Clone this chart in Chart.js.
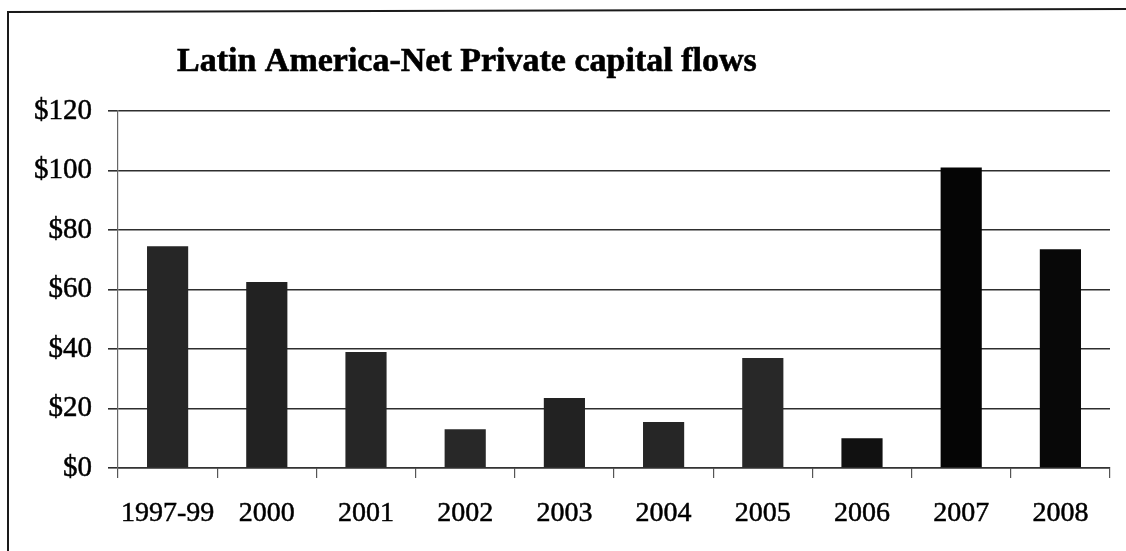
<!DOCTYPE html>
<html>
<head>
<meta charset="utf-8">
<style>
  html, body { margin: 0; padding: 0; background: #fff; overflow: hidden; }
  #wrap { position: relative; width: 1126px; height: 551px; overflow: hidden; }
  #c { display: block; }
</style>
<script src="https://cdn.jsdelivr.net/npm/chart.js@4/dist/chart.umd.min.js"></script>
</head>
<body>
<div id="wrap"><canvas id="c" width="1126" height="551"></canvas></div>
<script>
// Net private capital flows into Latin America, US$ billions
const categories = ['1997-99', '2000', '2001', '2002', '2003', '2004', '2005', '2006', '2007', '2008'];
const flows = [74.5, 62.5, 39, 13, 23.5, 15.5, 37, 10, 101, 73.5];
const yTicks = [0, 20, 40, 60, 80, 100, 120];
const chartTitle = 'Latin America-Net Private capital flows';

const barColors = ['#262626', '#222222', '#262626', '#282828', '#222222', '#262626', '#282828', '#111111', '#050505', '#080808'];
const serif = '"Liberation Serif", "Times New Roman", serif';

// Frame (top and left edges) and title drawn onto the canvas
const framePlugin = {
  id: 'frame',
  beforeDraw(chart) {
    const ctx = chart.ctx;
    ctx.save();
    ctx.fillStyle = '#ffffff';
    ctx.fillRect(0, 0, chart.width, chart.height);
    ctx.strokeStyle = '#1a1a1a';
    ctx.lineWidth = 2;
    ctx.beginPath();
    ctx.moveTo(8, chart.height + 5);
    ctx.lineTo(8, 12);
    ctx.lineTo(chart.width + 5, 9);
    ctx.stroke();
    ctx.restore();
  },
  afterDraw(chart) {
    const ctx = chart.ctx;
    ctx.save();
    ctx.fillStyle = '#000';
    ctx.strokeStyle = '#000';
    ctx.lineWidth = 0.6;
    ctx.font = 'bold 34px ' + serif;
    ctx.textAlign = 'left';
    ctx.textBaseline = 'alphabetic';
    ctx.fillText(chartTitle, 177, 71);
    ctx.strokeText(chartTitle, 177, 71);
    ctx.restore();
  }
};

new Chart(document.getElementById('c'), {
  type: 'bar',
  data: {
    labels: categories,
    datasets: [{
      data: flows,
      backgroundColor: barColors,
      borderWidth: 0,
      categoryPercentage: 1,
      barPercentage: 0.415
    }]
  },
  options: {
    responsive: false,
    animation: false,
    devicePixelRatio: 1,
    layout: { padding: { left: 0, top: 111, right: 16, bottom: 0 } },
    plugins: { legend: { display: false }, tooltip: { enabled: false }, title: { display: false } },
    scales: {
      x: {
        offset: true,
        afterFit(scale) { scale.height = 83; },
        grid: {
          offset: true,
          drawOnChartArea: false,
          drawTicks: true,
          tickLength: 10,
          color: '#555',
          lineWidth: 1.2
        },
        border: { display: true, color: '#333', width: 1.5 },
        ticks: {
          color: '#000',
          font: { family: serif, size: 28 },
          textStrokeColor: '#000',
          textStrokeWidth: 0.5,
          padding: 19,
          maxRotation: 0,
          autoSkip: false
        }
      },
      y: {
        min: 0,
        max: 120,
        afterFit(scale) { scale.width = 118; },
        afterBuildTicks(scale) { scale.ticks = yTicks.map(v => ({ value: v })); },
        grid: {
          drawTicks: true,
          tickLength: 10,
          color: '#2e2e2e',
          lineWidth: 1.6
        },
        border: { display: true, color: '#666', width: 1.2 },
        ticks: {
          color: '#000',
          font: { family: serif, size: 29 },
          textStrokeColor: '#000',
          textStrokeWidth: 0.5,
          padding: 16,
          callback: v => '$' + v
        }
      }
    }
  },
  plugins: [framePlugin]
});
</script>
</body>
</html>
